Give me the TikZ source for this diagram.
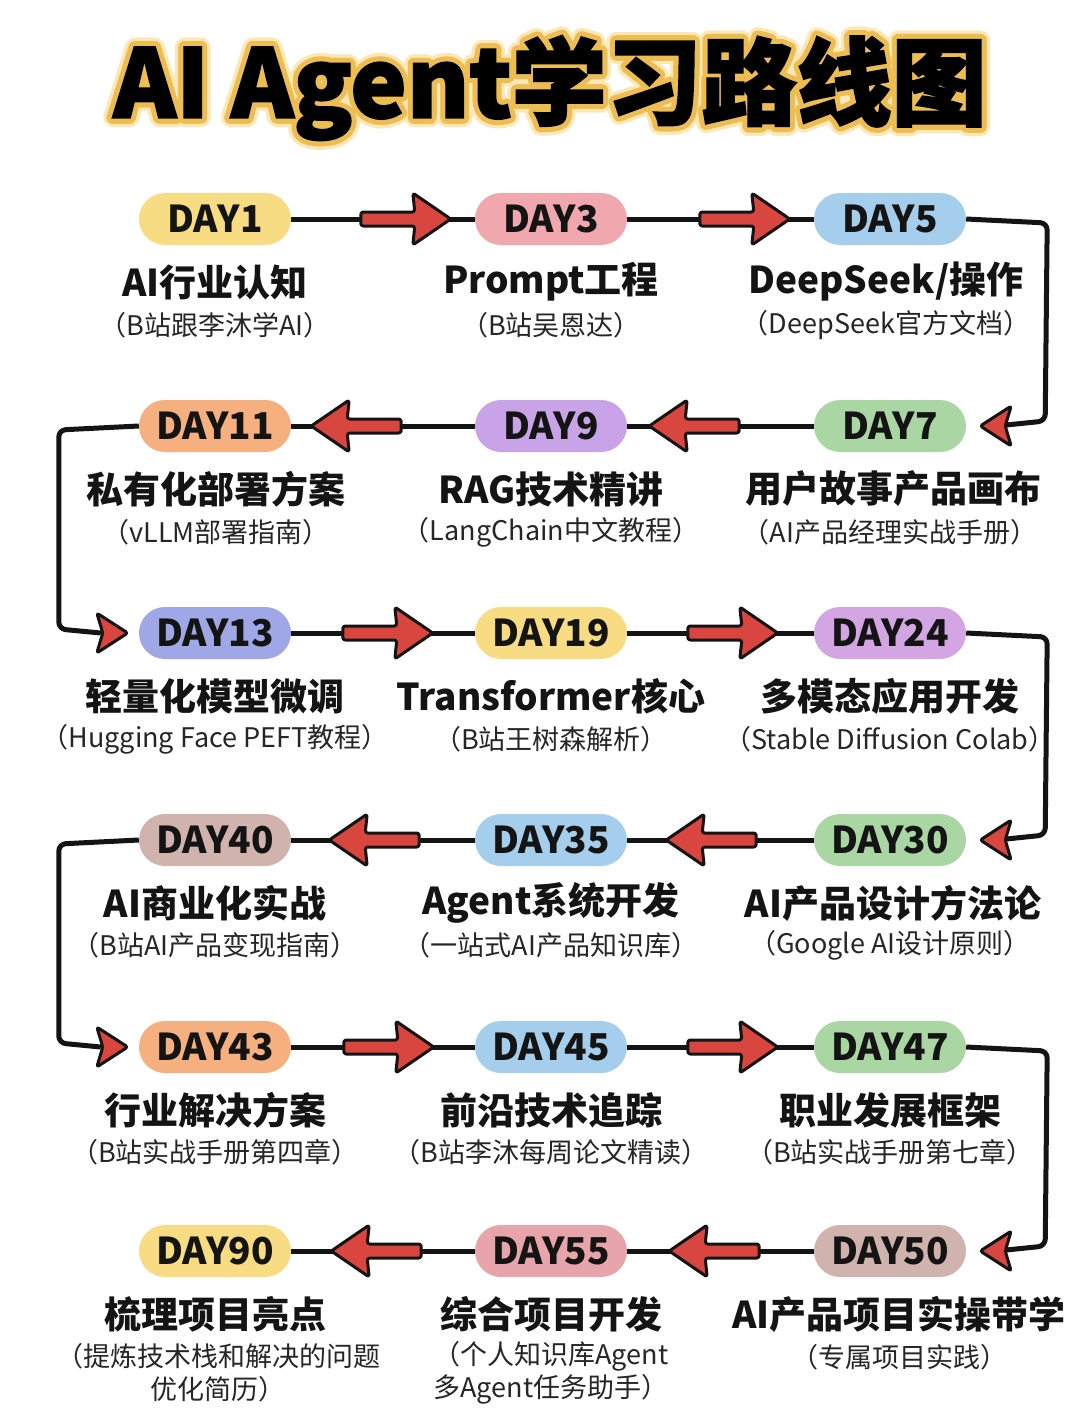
\documentclass[tikz,border=0pt]{standalone}
\usepackage{fontspec}
\setmainfont{Noto Sans CJK SC}
\newfontfamily\titlefont{Noto Sans CJK SC}[BoldFeatures={FakeBold=2}]
\usetikzlibrary{calc}
\definecolor{ink}{HTML}{141414}
\definecolor{ink2}{HTML}{262626}
\definecolor{halo}{HTML}{FBE8B6}
\definecolor{gold}{HTML}{EDBD52}
\definecolor{arrred}{HTML}{D9463F}
\definecolor{cYel}{HTML}{F8DC84}
\definecolor{cPink}{HTML}{F0A7AE}
\definecolor{cBlue}{HTML}{A4CEEB}
\definecolor{cGreen}{HTML}{A9D6A3}
\definecolor{cPurple}{HTML}{C9A3E8}
\definecolor{cOrange}{HTML}{F6B07F}
\definecolor{cPeri}{HTML}{A0A7E6}
\definecolor{cViolet}{HTML}{D3A6E3}
\definecolor{cMauve}{HTML}{D1B3AE}
\definecolor{cRose}{HTML}{E8A4AB}
\tikzset{
  pill/.style={rectangle, rounded corners=26pt, minimum width=152pt, minimum height=52pt, inner sep=0pt,
    text=ink, font=\bfseries\fontsize{37}{37}\selectfont},
  head/.style={text=ink, font=\bfseries\fontsize{37}{40}\selectfont, inner sep=0pt},
  sub/.style={text=ink2, font=\fontsize{27}{33}\selectfont, align=center, inner sep=0pt},
  conn/.style={draw=ink, line width=5pt, line join=round},
  arrsty/.style={draw=ink, fill=arrred, line width=3pt, line join=round, rounded corners=2.5pt},
  blockarrow/.pic={\draw[arrsty] (0,0) -- (-38,-26) -- (-36,-7) -- (-90,-7) -- (-90,7) -- (-36,7) -- (-38,26) -- cycle;},
  headarrow/.pic={\draw[arrsty] (0,0) -- (-31,-20) -- (-25,0) -- (-31,20) -- cycle;},
  ttl/.style={font=\titlefont\bfseries\fontsize{95}{95}\selectfont, inner sep=0pt}
}
\begin{document}
\begin{tikzpicture}[x=1pt,y=-1pt]
\fill[white] (0,0) rectangle (1080,1413);
\useasboundingbox (0,0) rectangle (1080,1413);

% title with outline
\foreach \a in {0,20,...,340} \node[ttl, text=halo] (tha\a) at ($(550,88)+(\a:8.5pt)$) {AI Agent学习路线图};
\foreach \a in {0,20,...,340} \node[ttl, text=gold] (thb\a) at ($(550,88)+(\a:5pt)$) {AI Agent学习路线图};
\node[ttl, text=black] (title) at (550,88) {AI Agent学习路线图};

% pills
\node[pill, fill=cYel]    (d1)  at (215,219) {DAY1};
\node[pill, fill=cPink]   (d3)  at (551,219) {DAY3};
\node[pill, fill=cBlue]   (d5)  at (890,219) {DAY5};
\node[pill, fill=cOrange] (d11) at (215,426) {DAY11};
\node[pill, fill=cPurple] (d9)  at (551,426) {DAY9};
\node[pill, fill=cGreen]  (d7)  at (890,426) {DAY7};
\node[pill, fill=cPeri]   (d13) at (215,633) {DAY13};
\node[pill, fill=cYel]    (d19) at (551,633) {DAY19};
\node[pill, fill=cViolet] (d24) at (890,633) {DAY24};
\node[pill, fill=cMauve]  (d40) at (215,840) {DAY40};
\node[pill, fill=cBlue]   (d35) at (551,840) {DAY35};
\node[pill, fill=cGreen]  (d30) at (890,840) {DAY30};
\node[pill, fill=cOrange] (d43) at (215,1047) {DAY43};
\node[pill, fill=cBlue]   (d45) at (551,1047) {DAY45};
\node[pill, fill=cGreen]  (d47) at (890,1047) {DAY47};
\node[pill, fill=cYel]    (d90) at (215,1251) {DAY90};
\node[pill, fill=cRose]   (d55) at (551,1251) {DAY55};
\node[pill, fill=cMauve]  (d50) at (890,1251) {DAY50};

% headings
\node[head] (h1)  at (215,282) {AI行业认知};
\node[head] (h3)  at (551,282) {Prompt工程};
\node[head] (h5)  at (886,282) {DeepSeek/操作};
\node[head] (h11) at (216,489) {私有化部署方案};
\node[head] (h9)  at (551,489) {RAG技术精讲};
\node[head] (h7)  at (893,489) {用户故事产品画布};
\node[head] (h13) at (215,696) {轻量化模型微调};
\node[head] (h19) at (551,696) {Transformer核心};
\node[head] (h24) at (890,696) {多模态应用开发};
\node[head] (h40) at (215,903) {AI商业化实战};
\node[head] (h35) at (551,903) {Agent系统开发};
\node[head] (h30) at (893,903) {AI产品设计方法论};
\node[head] (h43) at (215,1110) {行业解决方案};
\node[head] (h45) at (551,1110) {前沿技术追踪};
\node[head] (h47) at (890,1110) {职业发展框架};
\node[head] (h90) at (215,1314) {梳理项目亮点};
\node[head] (h55) at (551,1314) {综合项目开发};
\node[head] (h50) at (899,1314) {AI产品项目实操带学};

% sub texts
\node[sub] (s1)  at (215,325) {（B站跟李沐学AI）};
\node[sub] (s3)  at (551,325) {（B站吴恩达）};
\node[sub] (s5)  at (886,325) {（DeepSeek官方文档）};
\node[sub] (s11) at (216,532) {（vLLM部署指南）};
\node[sub] (s9)  at (551,532) {（LangChain中文教程）};
\node[sub] (s7)  at (890,532) {（AI产品经理实战手册）};
\node[sub] (s13) at (215,739) {（Hugging Face PEFT教程）};
\node[sub] (s19) at (551,739) {（B站王树森解析）};
\node[sub] (s24) at (890,739) {（Stable Diffusion Colab）};
\node[sub] (s40) at (215,945) {（B站AI产品变现指南）};
\node[sub] (s35) at (551,945) {（一站式AI产品知识库）};
\node[sub] (s30) at (890,945) {（Google AI设计原则）};
\node[sub] (s43) at (215,1152) {（B站实战手册第四章）};
\node[sub] (s45) at (551,1152) {（B站李沐每周论文精读）};
\node[sub] (s47) at (890,1152) {（B站实战手册第七章）};
\node[sub] (s90) at (218,1373) {（提炼技术栈和解决的问题\\优化简历）};
\node[sub] (s55) at (551,1373) {（个人知识库Agent\\多Agent任务助手）};
\node[sub] (s50) at (899,1357) {（专属项目实践）};

% straight connectors
\draw[conn] (d1.east) -- (d3.west);
\draw[conn] (d3.east) -- (d5.west);
\draw[conn] (d7.west) -- (d9.east);
\draw[conn] (d9.west) -- (d11.east);
\draw[conn] (d13.east) -- (d19.west);
\draw[conn] (d19.east) -- (d24.west);
\draw[conn] (d30.west) -- (d35.east);
\draw[conn] (d35.west) -- (d40.east);
\draw[conn] (d43.east) -- (d45.west);
\draw[conn] (d45.east) -- (d47.west);
\draw[conn] (d50.west) -- (d55.east);
\draw[conn] (d55.west) -- (d90.east);

% block arrows
\pic at ($(d3.west)+(-24,0)$) {blockarrow};
\pic at ($(d5.west)+(-24,0)$) {blockarrow};
\pic[rotate=180] at ($(d9.east)+(22,0)$) {blockarrow};
\pic[rotate=180] at ($(d11.east)+(20,0)$) {blockarrow};
\pic at ($(d19.west)+(-42,0)$) {blockarrow};
\pic at ($(d24.west)+(-36,0)$) {blockarrow};
\pic[rotate=180] at ($(d35.east)+(39,0)$) {blockarrow};
\pic[rotate=180] at ($(d40.east)+(38,0)$) {blockarrow};
\pic at ($(d45.west)+(-41,0)$) {blockarrow};
\pic at ($(d47.west)+(-36,0)$) {blockarrow};
\pic[rotate=180] at ($(d55.east)+(42,0)$) {blockarrow};
\pic[rotate=180] at ($(d90.east)+(40,0)$) {blockarrow};

% turning connectors right side
\draw[conn, rounded corners=7pt] (d5.east) -- ($(d5.east)+(81,4)$) -- ($(d7.east)+(79,-5)$) -- ($(d7.east)+(40,-1)$);
\pic[rotate=180] at ($(d7.east)+(14,0)$) {headarrow};
\draw[conn, rounded corners=7pt] (d24.east) -- ($(d24.east)+(81,4)$) -- ($(d30.east)+(79,-5)$) -- ($(d30.east)+(40,-1)$);
\pic[rotate=180] at ($(d30.east)+(14,0)$) {headarrow};
\draw[conn, rounded corners=7pt] (d47.east) -- ($(d47.east)+(81,4)$) -- ($(d50.east)+(79,-5)$) -- ($(d50.east)+(40,-1)$);
\pic[rotate=180] at ($(d50.east)+(14,0)$) {headarrow};

% turning connectors left side
\draw[conn, rounded corners=7pt] (d11.west) -- ($(d11.west)+(-80,4)$) -- ($(d13.west)+(-80,-4)$) -- ($(d13.west)+(-38,0)$);
\pic at ($(d13.west)+(-11,0)$) {headarrow};
\draw[conn, rounded corners=7pt] (d40.west) -- ($(d40.west)+(-80,4)$) -- ($(d43.west)+(-80,-4)$) -- ($(d43.west)+(-38,0)$);
\pic at ($(d43.west)+(-11,0)$) {headarrow};
\end{tikzpicture}
\end{document}
